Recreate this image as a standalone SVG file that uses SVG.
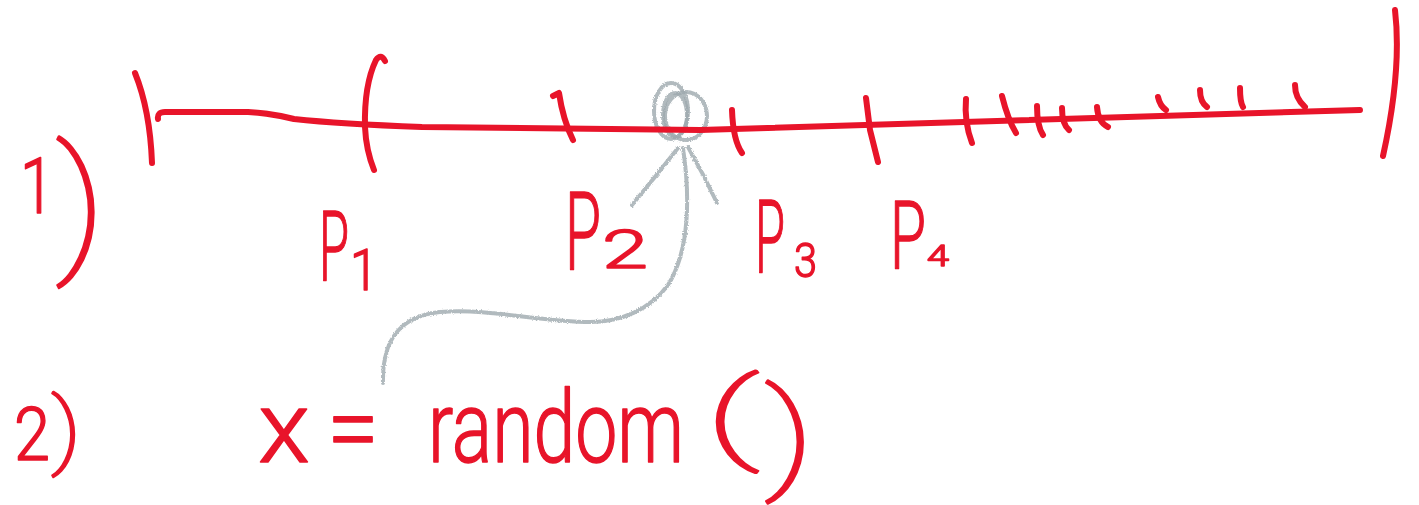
<svg xmlns="http://www.w3.org/2000/svg" width="1419" height="505" viewBox="0 0 1419 505">
<style>
.ink{fill:none;stroke:#e8142a;stroke-width:6;stroke-linecap:round;stroke-linejoin:round}
.pen{fill:none;stroke:#9ea9ae;stroke-width:4;stroke-linecap:round;stroke-linejoin:round;opacity:.8}
.hw{font-family:Roboto,"Liberation Sans",Arial,sans-serif;font-weight:300;fill:#e8142a;stroke:#e8142a;stroke-width:1.5;stroke-linejoin:round}
.thin{font-weight:100;stroke-width:2}
</style>
<defs>
<filter id="chalk" x="-10%" y="-10%" width="120%" height="120%">
<feTurbulence type="fractalNoise" baseFrequency="0.8" numOctaves="2" seed="3"/>
<feDisplacementMap in="SourceGraphic" scale="3" xChannelSelector="R" yChannelSelector="G"/>
</filter>
</defs>
<rect width="1419" height="505" fill="#ffffff"/>
<g id="pointer" filter="url(#chalk)">
<ellipse class="pen" cx="671" cy="111" rx="17" ry="28"/>
<ellipse class="pen" cx="686" cy="116" rx="21" ry="24"/>
<ellipse class="pen" cx="675" cy="115" rx="12" ry="22"/>
<path class="pen" d="M678,148 Q656,176 632,205"/>
<path class="pen" d="M688,147 Q704,175 717,203"/>
<path class="pen" d="M683,148 C690,195 690,250 668,285 C650,310 620,322 590,322 C540,322 490,308 440,312 C400,316 382,340 383,383"/>
</g>
<g id="axis">
<path class="ink" d="M158,119 Q157,112 165,112 L248,112 Q270,113 294,119 Q340,124 422,127 L700,130 L1360,110"/>
<path class="ink" d="M135,73 Q150,110 152,163"/>
<path class="ink" d="M1395,10 Q1402,70 1383,156"/>
<path class="ink" d="M385,61 Q381,53 376,60 Q364,85 365,127 Q366,150 374,170"/>
<path class="ink" d="M553,96 L559,93 Q563,120 573,140"/>
<path class="ink" d="M732,110 Q733,140 742,153"/>
<path class="ink" d="M866,98 L870,130 L878,162"/>
<path class="ink" d="M966,99 Q964,122 972,143"/>
<path class="ink" d="M1002,96 Q1008,120 1016,133"/>
<path class="ink" d="M1037,106 Q1037,126 1043,135"/>
<path class="ink" d="M1062,108 Q1062,124 1069,130"/>
<path class="ink" d="M1097,107 Q1098,122 1108,127"/>
<path class="ink" d="M1158,97 Q1160,106 1166,110"/>
<path class="ink" d="M1200,90 Q1200,102 1207,107"/>
<path class="ink" d="M1240,88 Q1240,102 1243,107"/>
<path class="ink" d="M1295,85 Q1295,98 1305,107"/>
</g>
<g id="step1">
<text class="hw" font-size="77" y="213"><tspan x="20" textLength="34" lengthAdjust="spacingAndGlyphs">1</tspan><tspan class="thin" x="55" y="254" font-size="148" textLength="52" lengthAdjust="spacingAndGlyphs">)</tspan></text>
</g>
<g id="p1">
<text class="hw" font-size="99" y="281"><tspan x="319" textLength="30" lengthAdjust="spacingAndGlyphs">P</tspan><tspan x="350" y="290" font-size="58" textLength="28" lengthAdjust="spacingAndGlyphs">1</tspan></text>
</g>
<g id="p2">
<text class="hw" font-size="109" y="270"><tspan x="565" textLength="36" lengthAdjust="spacingAndGlyphs">P</tspan><tspan x="602" y="268" font-size="54" textLength="46" lengthAdjust="spacingAndGlyphs">2</tspan></text>
</g>
<g id="p3">
<text class="hw" font-size="102" y="273"><tspan x="755" textLength="30" lengthAdjust="spacingAndGlyphs">P</tspan><tspan x="794" y="277" font-size="49" textLength="23" lengthAdjust="spacingAndGlyphs">3</tspan></text>
</g>
<g id="p4">
<text class="hw" font-size="95" y="268"><tspan x="890" textLength="36" lengthAdjust="spacingAndGlyphs">P</tspan><tspan x="927" y="266" font-size="30" textLength="22" lengthAdjust="spacingAndGlyphs">4</tspan></text>
</g>
<g id="step2">
<text class="hw" font-size="74" y="460"><tspan x="14" textLength="36" lengthAdjust="spacingAndGlyphs">2</tspan><tspan class="thin" x="51" y="458" font-size="83" textLength="31" lengthAdjust="spacingAndGlyphs">)</tspan></text>
</g>
<g id="code">
<text class="hw" font-size="100" y="462"><tspan x="258" textLength="52" lengthAdjust="spacingAndGlyphs">x</tspan><tspan x="327" textLength="52" lengthAdjust="spacingAndGlyphs">=</tspan> <tspan x="428" textLength="256" lengthAdjust="spacingAndGlyphs">random</tspan><tspan class="thin" x="704" y="450" font-size="101" textLength="56" lengthAdjust="spacingAndGlyphs">(</tspan><tspan class="thin" x="764" y="476" font-size="120" textLength="52" lengthAdjust="spacingAndGlyphs">)</tspan></text>
</g>
</svg>
